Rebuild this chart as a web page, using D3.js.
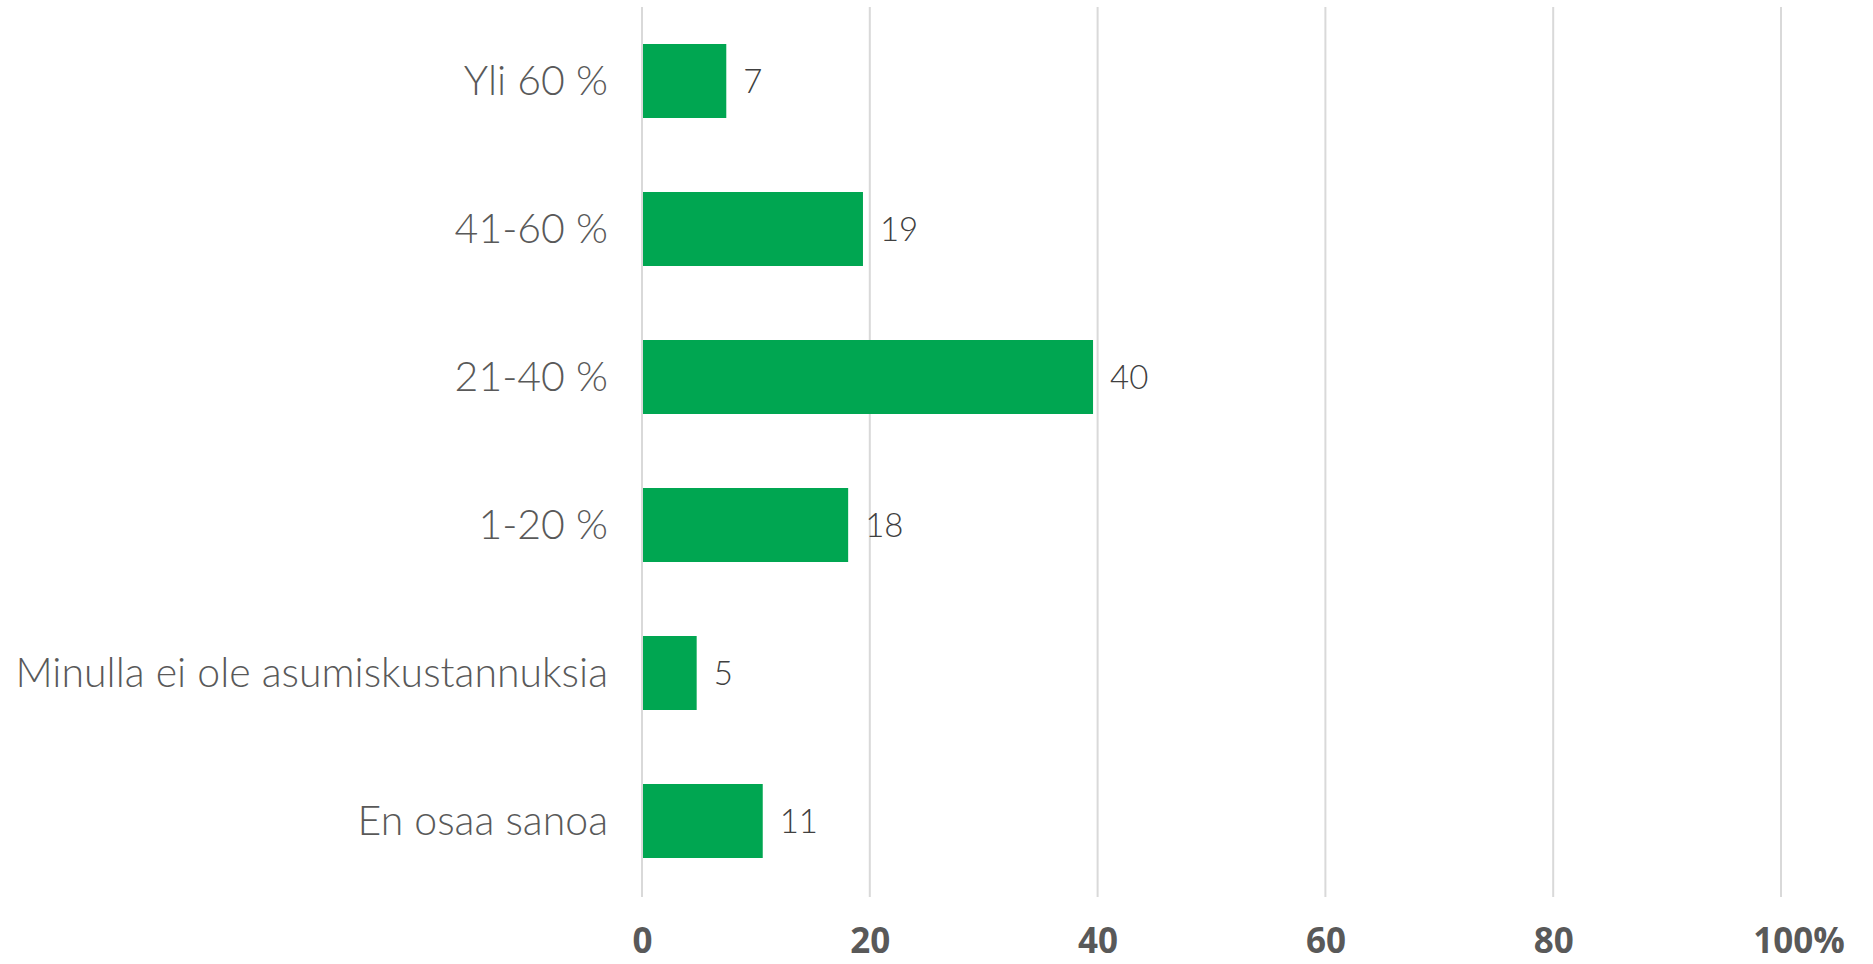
<!DOCTYPE html>
<html>
<head>
<meta charset="utf-8">
<script src="https://cdn.jsdelivr.net/npm/d3@7"></script>
<style>
  html, body { margin: 0; padding: 0; background: #fff; }
  svg { display: block; }
</style>
</head>
<body>
<div id="chart"></div>
<script>
// Data
const categories = ['Yli 60 %', '41-60 %', '21-40 %', '1-20 %', 'Minulla ei ole asumiskustannuksia', 'En osaa sanoa'];
const values = [7.4, 19.4, 39.6, 18.1, 4.8, 10.6];
const valueLabels = ['7', '19', '40', '18', '5', '11'];
const ticks = [0, 20, 40, 60, 80, 100];

// Dimensions
const WIDTH = 1873;
const HEIGHT = 964;
const MARGIN = { TOP: 7, BOTTOM: 69, LEFT: 642, RIGHT: 92 };

const svg = d3
  .select('#chart')
  .append('svg')
  .attr('width', WIDTH)
  .attr('height', HEIGHT);

const g = svg.append('g').attr('transform', `translate(${MARGIN.LEFT}, ${MARGIN.TOP})`);
const innerW = WIDTH - MARGIN.LEFT - MARGIN.RIGHT;
const innerH = HEIGHT - MARGIN.TOP - MARGIN.BOTTOM;

// Scales
const x = d3.scaleLinear().domain([0, 100]).range([0, innerW]);
const y = d3
  .scaleBand()
  .domain(categories)
  .range([0, innerH])
  .paddingInner(0.5)
  .paddingOuter(0.25);

// Gridlines
g.selectAll('line.grid')
  .data(ticks)
  .enter()
  .append('line')
  .attr('class', 'grid')
  .attr('x1', (d) => x(d))
  .attr('x2', (d) => x(d))
  .attr('y1', 0)
  .attr('y2', innerH + 2)
  .attr('stroke', '#d9d9d9')
  .attr('stroke-width', 2);

// X axis labels
const xAxis = d3
  .axisBottom(x)
  .tickValues(ticks)
  .tickSize(0)
  .tickPadding(0)
  .tickFormat((d) => (d === 100 ? '100%' : d));
const xg = g.append('g').attr('transform', `translate(0, ${innerH})`).call(xAxis);
xg.select('.domain').remove();
xg.selectAll('text')
  .attr('y', 58)
  .attr('dy', 0)
  .attr('dx', (d) => (d === 100 ? '0.5em' : 0))
  .attr('fill', '#595959')
  .style('font-family', '"Open Sans", sans-serif')
  .style('font-weight', 700)
  .style('font-size', '35px');

// Y axis labels
const yAxis = d3.axisLeft(y).tickSize(0).tickPadding(34);
const yg = g.append('g').call(yAxis);
yg.select('.domain').remove();
yg.selectAll('text')
  .attr('fill', '#595959')
  .attr('dy', '0.35em')
  .style('font-family', 'Lato, sans-serif')
  .style('font-weight', 300)
  .style('font-size', '41px');

// Bars
g.selectAll('rect.bar')
  .data(values)
  .enter()
  .append('rect')
  .attr('class', 'bar')
  .attr('x', x(0) + 1)
  .attr('y', (d, i) => y(categories[i]))
  .attr('width', (d) => x(d) - x(0) - 1)
  .attr('height', y.bandwidth())
  .attr('fill', '#00a651');

// Value labels
g.selectAll('text.value')
  .data(values)
  .enter()
  .append('text')
  .attr('class', 'value')
  .attr('x', (d) => x(d) + 17)
  .attr('y', (d, i) => y(categories[i]) + y.bandwidth() / 2)
  .attr('dy', '0.36em')
  .attr('fill', '#404040')
  .style('font-family', 'Lato, sans-serif')
  .style('font-weight', 300)
  .style('font-size', '33px')
  .text((d, i) => valueLabels[i]);
</script>
</body>
</html>
